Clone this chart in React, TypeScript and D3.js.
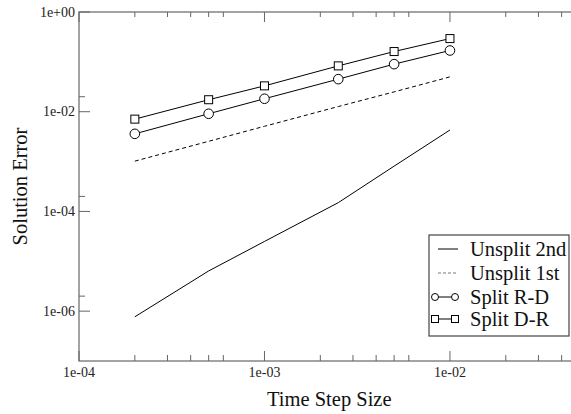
import React, { useEffect, useRef } from 'react';
import * as d3 from 'd3';

// time step sizes (x) and errors
const steps = [2e-4, 5e-4, 1e-3, 2.5e-3, 5e-3, 1e-2];
const unsplit2nd = [7.7e-7, 6.4e-6, 2.5e-5, 1.5e-4, 8.1e-4, 4.3e-3];
const unsplit1st = [1.02e-3, 2.55e-3, 5.1e-3, 1.27e-2, 2.5e-2, 5.0e-2];
const splitRD = [3.6e-3, 9.1e-3, 1.82e-2, 4.5e-2, 9.0e-2, 1.69e-1];
const splitDR = [7.1e-3, 1.74e-2, 3.3e-2, 8.3e-2, 1.61e-1, 2.93e-1];

const xMajor = [1e-4, 1e-3, 1e-2];
const xLabels = ['1e-04', '1e-03', '1e-02'];
const xMinor = [2e-4, 3e-4, 4e-4, 5e-4, 6e-4, 2e-3, 3e-3, 4e-3, 5e-3, 6e-3, 2e-2, 3e-2, 4e-2];
const yMajor = [1e0, 1e-2, 1e-4, 1e-6];
const yLabels = ['1e+00', '1e-02', '1e-04', '1e-06'];
const yMinor = [2e-2, 2e-4, 2e-6];

const legendNames = ['Unsplit 2nd', 'Unsplit 1st', 'Split R-D', 'Split D-R'];

export default function App() {
  const ref = useRef<SVGSVGElement>(null);

  useEffect(() => {
    const svg = d3.select(ref.current);
    svg.selectAll('*').remove();
    const font = 'Liberation Serif, Times New Roman, serif';
    const axisColor = '#666';

    const x = d3.scaleLog().domain([1e-4, 5e-2]).range([79, 579.6]);
    const y = d3.scaleLog().domain([1e-7, 1e0]).range([361, 12]);

    const g = svg.append('g').style('font-family', font);

    // frame
    g.append('rect')
      .attr('x', x(1e-4)).attr('y', y(1))
      .attr('width', x(5e-2) - x(1e-4)).attr('height', y(1e-7) - y(1))
      .attr('fill', 'none').attr('stroke', axisColor).attr('stroke-width', 1.2);

    // x ticks, bottom (up) and top (down)
    xMajor.forEach(v => {
      g.append('line').attr('x1', x(v)).attr('x2', x(v)).attr('y1', 361).attr('y2', 351).attr('stroke', axisColor);
      g.append('line').attr('x1', x(v)).attr('x2', x(v)).attr('y1', 12).attr('y2', 22).attr('stroke', axisColor);
    });
    xMinor.forEach(v => {
      g.append('line').attr('x1', x(v)).attr('x2', x(v)).attr('y1', 361).attr('y2', 355).attr('stroke', axisColor);
      g.append('line').attr('x1', x(v)).attr('x2', x(v)).attr('y1', 12).attr('y2', 17).attr('stroke', axisColor);
    });
    xMajor.forEach((v, i) => {
      g.append('text').attr('x', x(v)).attr('y', 377).attr('text-anchor', 'middle')
        .attr('font-size', 14).attr('fill', '#222').text(xLabels[i]);
    });

    // y ticks, left (inward)
    yMajor.forEach((v, i) => {
      g.append('line').attr('x1', 79).attr('x2', 90).attr('y1', y(v)).attr('y2', y(v)).attr('stroke', axisColor);
      g.append('text').attr('x', 75).attr('y', y(v)).attr('dy', '0.33em').attr('text-anchor', 'end')
        .attr('font-size', 14).attr('fill', '#222').text(yLabels[i]);
    });
    yMinor.forEach(v => {
      g.append('line').attr('x1', 79).attr('x2', 85).attr('y1', y(v)).attr('y2', y(v)).attr('stroke', axisColor);
    });

    // axis titles
    g.append('text').attr('x', (x(1e-4) + x(5e-2)) / 2).attr('y', 406).attr('text-anchor', 'middle')
      .attr('font-size', 20.5).attr('fill', '#111').text('Time Step Size');
    g.append('text').attr('transform', `translate(27,${(y(1) + y(1e-7)) / 2}) rotate(-90)`)
      .attr('text-anchor', 'middle')
      .attr('font-size', 20.5).attr('fill', '#111').text('Solution Error');

    const line = d3.line<number>().x((d, i) => x(steps[i])).y(d => y(d));

    g.append('path').attr('d', line(unsplit2nd)).attr('fill', 'none').attr('stroke', '#000').attr('stroke-width', 1);
    g.append('path').attr('d', line(unsplit1st)).attr('fill', 'none').attr('stroke', '#000')
      .attr('stroke-width', 1).attr('stroke-dasharray', '4,3');
    g.append('path').attr('d', line(splitRD)).attr('fill', 'none').attr('stroke', '#000').attr('stroke-width', 1);
    g.append('path').attr('d', line(splitDR)).attr('fill', 'none').attr('stroke', '#000').attr('stroke-width', 1);

    splitRD.forEach((v, i) => {
      g.append('circle').attr('cx', x(steps[i])).attr('cy', y(v)).attr('r', 4.8)
        .attr('fill', 'white').attr('stroke', '#000').attr('stroke-width', 1);
    });
    splitDR.forEach((v, i) => {
      g.append('rect').attr('x', x(steps[i]) - 4).attr('y', y(v) - 4).attr('width', 8).attr('height', 8)
        .attr('fill', 'white').attr('stroke', '#000').attr('stroke-width', 1);
    });

    // legend
    const lg = g.append('g');
    lg.append('rect').attr('x', 429).attr('y', 235).attr('width', 140).attr('height', 101)
      .attr('fill', 'white').attr('stroke', '#444').attr('stroke-width', 1.2);
    const rowY = [249, 273, 297, 319];
    legendNames.forEach((name, i) => {
      const ry = rowY[i];
      if (i === 0) {
        lg.append('line').attr('x1', 438).attr('x2', 458).attr('y1', ry).attr('y2', ry).attr('stroke', '#000');
      } else if (i === 1) {
        lg.append('line').attr('x1', 438).attr('x2', 458).attr('y1', ry).attr('y2', ry).attr('stroke', '#555')
          .attr('stroke-dasharray', '3,2').attr('stroke-width', 0.8);
      } else {
        lg.append('line').attr('x1', 435).attr('x2', 455).attr('y1', ry).attr('y2', ry).attr('stroke', '#000');
        [435, 455].forEach(cx => {
          if (i === 2) {
            lg.append('circle').attr('cx', cx).attr('cy', ry).attr('r', 3.5)
              .attr('fill', 'white').attr('stroke', '#000');
          } else {
            lg.append('rect').attr('x', cx - 3.5).attr('y', ry - 3.5).attr('width', 7).attr('height', 7)
              .attr('fill', 'white').attr('stroke', '#000');
          }
        });
      }
      lg.append('text').attr('x', 470).attr('y', ry + 7)
        .attr('font-size', 20.5).attr('fill', '#111').text(name);
    });
  }, []);

  return (
    <svg ref={ref} width={571} height={414}
      style={{ position: 'absolute', left: 0, top: 0, background: 'white', display: 'block' }} />
  );
}
